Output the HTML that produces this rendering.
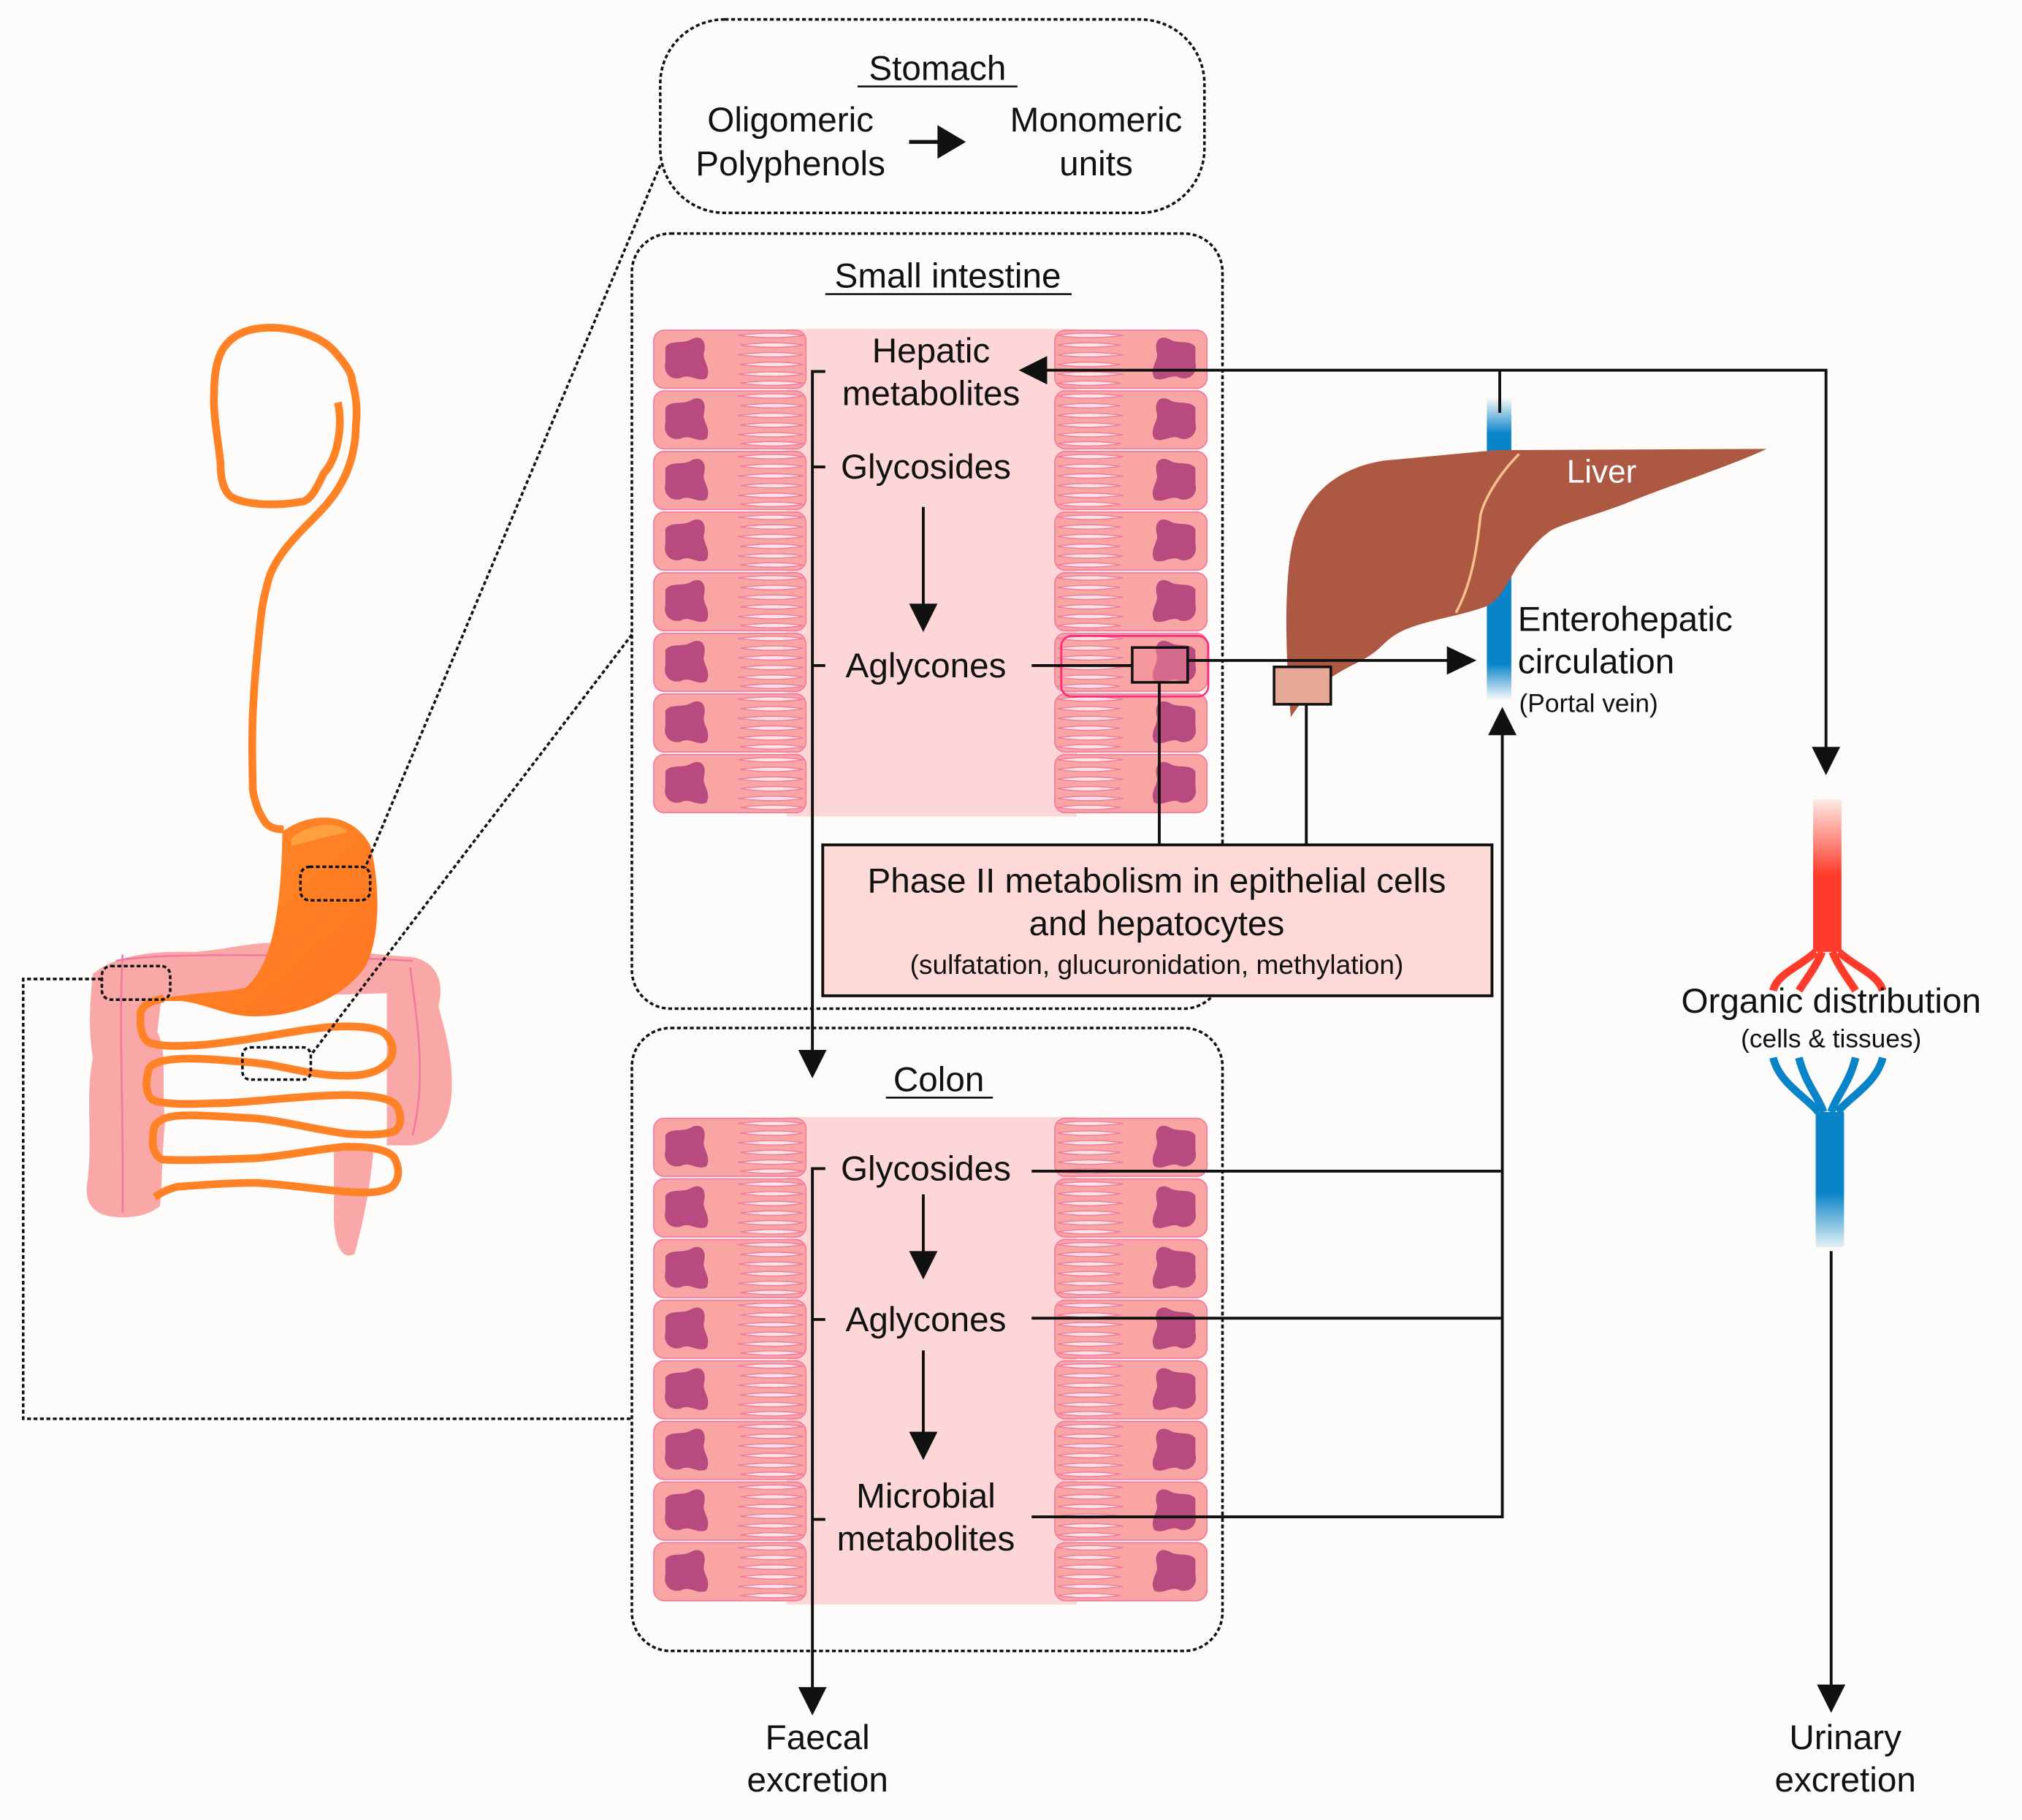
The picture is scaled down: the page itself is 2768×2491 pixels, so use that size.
<!DOCTYPE html>
<html><head><meta charset="utf-8">
<style>
html,body{margin:0;padding:0;background:#fdfcfa;}
svg{display:block;}
text{font-family:"Liberation Sans",sans-serif;fill:#111;}
</style></head>
<body>
<svg width="2768" height="2491" viewBox="0 0 1568 1411" xmlns="http://www.w3.org/2000/svg">
<defs>
  <symbol id="lrow" viewBox="0 0 120 47" width="120" height="47">
    <rect x="1" y="1" width="118" height="45" rx="8" fill="#f9a5a3" stroke="#f27ca0" stroke-width="1"/>
    <path d="M10 14 C14 8 24 12 30 8 C38 4 42 10 40 18 C38 24 46 30 42 38 C36 42 28 34 22 38 C14 40 8 34 10 26 Z" fill="#b94a80"/>
    <g fill="#fde4e4" stroke="#f07aa0" stroke-width="0.8">
      <path d="M66 5 Q95 1.5 117 5 Q95 8.5 66 5Z"/>
      <path d="M68 12.5 Q95 9 117 12.5 Q95 16 68 12.5Z"/>
      <path d="M66 20 Q95 16.5 117 20 Q95 23.5 66 20Z"/>
      <path d="M68 27.5 Q95 24 117 27.5 Q95 31 68 27.5Z"/>
      <path d="M66 35 Q95 31.5 117 35 Q95 38.5 66 35Z"/>
      <path d="M68 42 Q95 38.5 117 42 Q95 45.5 68 42Z"/>
    </g>
  </symbol>
  <linearGradient id="bv" x1="0" y1="0" x2="0" y2="1">
    <stop offset="0" stop-color="#0a84c8" stop-opacity="0"/>
    <stop offset="0.12" stop-color="#0a84c8"/>
    <stop offset="0.88" stop-color="#0a84c8"/>
    <stop offset="1" stop-color="#0a84c8" stop-opacity="0"/>
  </linearGradient>
  <linearGradient id="rv" x1="0" y1="0" x2="0" y2="1">
    <stop offset="0" stop-color="#ff3b2b" stop-opacity="0.1"/>
    <stop offset="0.5" stop-color="#ff3b2b"/>
    <stop offset="1" stop-color="#ff3b2b"/>
  </linearGradient>
  <linearGradient id="bv2" x1="0" y1="0" x2="0" y2="1">
    <stop offset="0" stop-color="#0a84c8"/>
    <stop offset="0.6" stop-color="#0a84c8"/>
    <stop offset="1" stop-color="#0a84c8" stop-opacity="0.1"/>
  </linearGradient>
  <linearGradient id="st" x1="0" y1="0" x2="1" y2="1">
    <stop offset="0" stop-color="#ff8a2a"/>
    <stop offset="1" stop-color="#ff7520"/>
  </linearGradient>
</defs>

<rect width="1568" height="1411" fill="#fdfcfa"/>

<g>
  <g fill="#f9a7a7">
    <path d="M72 755 C90 740 120 737 150 738 C180 736 200 728 230 732 C260 736 290 740 320 742 C338 746 345 760 340 780 C345 800 352 820 350 850 C348 870 340 885 320 888 L290 888 C288 910 285 935 275 972 C265 978 258 965 259 935 L259 888 L300 888 L300 770 L125 775 L122 800 C130 815 125 840 128 870 C125 900 126 920 124 935 C115 943 100 945 85 943 C70 940 65 930 68 915 C72 880 66 850 72 820 C68 795 70 775 72 755 Z"/>
  </g>
  <path d="M95 740 C92 800 96 860 95 940" stroke="#f27aa0" stroke-width="1.5" fill="none"/>
  <path d="M90 745 C110 740 200 738 320 745" stroke="#f27aa0" stroke-width="1.5" fill="none"/>
  <path d="M318 750 C325 800 330 840 320 880" stroke="#f27aa0" stroke-width="1.5" fill="none"/>
  <path d="M262 312 C266 330 262 355 251 367 C245 380 240 389 233 389 C222 391 214 391 210 391 C195 391 182 388 178 384 C172 378 171 368 171 359 C169 340 165 320 166 305 C166 290 168 280 172 272 C180 258 195 254 210 254 C230 254 250 262 259 272 C268 282 273 290 273 295 C277 310 277 320 276 329 C276 345 272 360 267 370 C260 385 250 395 239 406 C225 420 212 435 208 450 C204 465 203 472 202 481 C199 510 197 530 196 555 C195 580 196 600 196 612 C198 625 202 632 206 638 C210 642 214 643 220 643" stroke="#ff8226" stroke-width="6" fill="none"/>
  <path d="M219 645 C235 632 270 625 287 655 C296 690 294 730 283 750 C265 775 230 788 198 788 C175 788 160 778 140 776 L115 776 C140 770 170 770 190 766 C210 750 218 710 219 645 Z" fill="url(#st)"/>
  <path d="M226 650 C240 638 262 636 270 645 C255 648 240 652 226 656Z" fill="#ffa040"/>
  <path d="M127 774 C112 777 108 783 109 788 C108 800 112 806 115 808 C125 812 140 811 158 810 C200 806 230 798 259 796 C280 795 296 797 300 803 C306 810 305 818 302 822 C295 832 280 834 269 834 C240 834 220 826 198 824 C175 822 155 820 138 821 C122 822 115 826 115 831 C112 842 114 850 119 853 C130 857 150 856 178 855 C210 853 240 849 269 849 C290 849 305 852 308 858 C312 866 311 873 306 877 C298 880 285 880 269 879 C245 876 220 869 198 867 C175 866 155 864 138 865 C125 866 119 871 119 877 C117 890 120 896 126 899 C140 900 170 899 198 898 C225 896 250 890 269 889 C290 889 302 892 306 898 C310 906 310 914 304 920 C296 925 285 925 269 924 C245 922 220 918 198 917 C175 917 155 919 138 920 C130 922 126 924 120 928" stroke="#ff8226" stroke-width="6" fill="none"/>
  <rect x="233" y="672" width="54" height="26" rx="7" fill="none" stroke="#111" stroke-width="2" stroke-dasharray="3,2"/>
  <rect x="188" y="812" width="53" height="25" rx="6" fill="none" stroke="#111" stroke-width="2" stroke-dasharray="3,2"/>
  <rect x="79" y="749" width="53" height="26" rx="7" fill="none" stroke="#111" stroke-width="2" stroke-dasharray="3,2"/>
</g>

<g stroke="#111" stroke-width="2" stroke-dasharray="3,2" fill="none">
  <path d="M512 128 L283 673"/>
  <path d="M490 492 L241 818"/>
  <path d="M79 759 L18 759 L18 1100 L490 1100"/>
</g>

<g fill="none" stroke="#111" stroke-width="2" stroke-dasharray="3,2">
  <rect x="512" y="15" width="422" height="150" rx="50"/>
  <rect x="490" y="181" width="458" height="601" rx="30"/>
  <rect x="490" y="797" width="458" height="483" rx="30"/>
</g>

<text x="727" y="62" font-size="27" text-anchor="middle">Stomach</text>
<line x1="665" y1="67" x2="789" y2="67" stroke="#111" stroke-width="1.5"/>
<text x="613" y="102" font-size="27" text-anchor="middle">Oligomeric</text>
<text x="613" y="136" font-size="27" text-anchor="middle">Polyphenols</text>
<text x="850" y="102" font-size="27" text-anchor="middle">Monomeric</text>
<text x="850" y="136" font-size="27" text-anchor="middle">units</text>
<line x1="705" y1="110" x2="730" y2="110" stroke="#111" stroke-width="3"/>
<polygon points="727,97 749,110 727,123" fill="#111"/>

<text x="735" y="223" font-size="27" text-anchor="middle">Small intestine</text>
<line x1="640" y1="228" x2="831" y2="228" stroke="#111" stroke-width="1.5"/>
<text x="728" y="846" font-size="27" text-anchor="middle">Colon</text>
<line x1="687" y1="851" x2="770" y2="851" stroke="#111" stroke-width="1.5"/>

<g>
  <rect x="610" y="255" width="225" height="378" fill="#fdd7d7"/>
  <use href="#lrow" x="506" y="255"/><use href="#lrow" x="506" y="302"/><use href="#lrow" x="506" y="349"/><use href="#lrow" x="506" y="396"/>
  <use href="#lrow" x="506" y="443"/><use href="#lrow" x="506" y="490"/><use href="#lrow" x="506" y="537"/><use href="#lrow" x="506" y="584"/>
  <g transform="translate(1443,0) scale(-1,1)">
    <use href="#lrow" x="506" y="255"/><use href="#lrow" x="506" y="302"/><use href="#lrow" x="506" y="349"/><use href="#lrow" x="506" y="396"/>
    <use href="#lrow" x="506" y="443"/><use href="#lrow" x="506" y="490"/><use href="#lrow" x="506" y="537"/><use href="#lrow" x="506" y="584"/>
  </g>
  <rect x="823" y="493" width="114" height="47" rx="8" fill="none" stroke="#ff2a7a" stroke-width="1.5"/>
</g>
<g transform="translate(0,611)">
  <rect x="610" y="255" width="225" height="378" fill="#fdd7d7"/>
  <use href="#lrow" x="506" y="255"/><use href="#lrow" x="506" y="302"/><use href="#lrow" x="506" y="349"/><use href="#lrow" x="506" y="396"/>
  <use href="#lrow" x="506" y="443"/><use href="#lrow" x="506" y="490"/><use href="#lrow" x="506" y="537"/><use href="#lrow" x="506" y="584"/>
  <g transform="translate(1443,0) scale(-1,1)">
    <use href="#lrow" x="506" y="255"/><use href="#lrow" x="506" y="302"/><use href="#lrow" x="506" y="349"/><use href="#lrow" x="506" y="396"/>
    <use href="#lrow" x="506" y="443"/><use href="#lrow" x="506" y="490"/><use href="#lrow" x="506" y="537"/><use href="#lrow" x="506" y="584"/>
  </g>
</g>

<text x="722" y="281" font-size="27" text-anchor="middle">Hepatic</text>
<text x="722" y="314" font-size="27" text-anchor="middle">metabolites</text>
<text x="718" y="371" font-size="27" text-anchor="middle">Glycosides</text>
<text x="718" y="525" font-size="27" text-anchor="middle">Aglycones</text>

<text x="718" y="915" font-size="27" text-anchor="middle">Glycosides</text>
<text x="718" y="1032" font-size="27" text-anchor="middle">Aglycones</text>
<text x="718" y="1169" font-size="27" text-anchor="middle">Microbial</text>
<text x="718" y="1202" font-size="27" text-anchor="middle">metabolites</text>

<rect x="1153" y="308" width="19" height="235" fill="url(#bv)"/>
<path d="M1001 556 C996 500 996 440 1004 415 C1015 380 1040 362 1074 357 L1160 349 L1370 348 C1340 362 1290 378 1259 391 C1235 400 1215 405 1203 411 C1190 420 1182 432 1176 440 C1165 460 1160 468 1150 471 C1130 478 1110 480 1090 488 C1070 497 1075 503 1050 515 C1030 525 1012 538 1001 556 Z" fill="#ad5843"/>
<path d="M1178 352 C1160 370 1150 390 1148 400 C1145 430 1140 455 1129 475" stroke="#f7c08c" stroke-width="2" fill="none"/>
<text x="1242" y="374" font-size="25" text-anchor="middle" style="fill:#fff">Liver</text>
<text x="1177" y="489" font-size="27">Enterohepatic</text>
<text x="1177" y="522" font-size="27">circulation</text>
<text x="1178" y="552" font-size="20">(Portal vein)</text>

<g fill="none" stroke-width="6">
  <rect x="1406" y="620" width="22" height="118" fill="url(#rv)" stroke="none"/>
  <path d="M1408 738 C1395 750 1378 755 1375 768" stroke="#ff3b2b"/>
  <path d="M1413 738 C1408 750 1400 760 1395 768" stroke="#ff3b2b"/>
  <path d="M1421 738 C1426 750 1434 760 1439 768" stroke="#ff3b2b"/>
  <path d="M1426 738 C1439 750 1456 755 1460 768" stroke="#ff3b2b"/>
  <path d="M1375 820 C1380 840 1400 850 1410 862" stroke="#0a84c8"/>
  <path d="M1395 820 C1400 840 1410 850 1414 862" stroke="#0a84c8"/>
  <path d="M1439 820 C1434 840 1424 850 1420 862" stroke="#0a84c8"/>
  <path d="M1460 820 C1455 840 1435 850 1425 862" stroke="#0a84c8"/>
  <rect x="1408" y="862" width="22" height="105" fill="url(#bv2)" stroke="none"/>
</g>
<text x="1420" y="785" font-size="27" text-anchor="middle">Organic distribution</text>
<text x="1420" y="812" font-size="20" text-anchor="middle">(cells &amp; tissues)</text>

<g stroke="#111" stroke-width="2.2" fill="none">
  <path d="M640 288 L630 288 L630 822"/>
  <path d="M630 362 L640 362"/>
  <path d="M630 516 L640 516"/>
  <path d="M640 906 L630 906 L630 1312"/>
  <path d="M630 1023 L640 1023"/>
  <path d="M630 1178 L640 1178"/>
  <path d="M716 393 L716 473"/>
  <path d="M716 926 L716 975"/>
  <path d="M716 1047 L716 1115"/>
  <path d="M810 287 L1416 287 L1416 582"/>
  <path d="M1163 287 L1163 320"/>
  <path d="M800 516 L878 516"/>
  <path d="M921 512 L1125 512"/>
  <path d="M899 529 L899 655"/>
  <path d="M1013 546 L1013 655"/>
  <path d="M800 908 L1165 908"/>
  <path d="M800 1022 L1165 1022"/>
  <path d="M800 1176 L1165 1176 L1165 568"/>
  <path d="M1420 970 L1420 1310"/>
</g>
<g fill="#111">
  <polygon points="790,287 812,276 812,298"/>
  <polygon points="619,814 641,814 630,836"/>
  <polygon points="619,1308 641,1308 630,1330"/>
  <polygon points="705,468 727,468 716,490"/>
  <polygon points="705,970 727,970 716,992"/>
  <polygon points="705,1110 727,1110 716,1132"/>
  <polygon points="1122,501 1145,512 1122,523"/>
  <polygon points="1405,579 1427,579 1416,601"/>
  <polygon points="1154,570 1176,570 1165,548"/>
  <polygon points="1409,1306 1431,1306 1420,1328"/>
</g>
<rect x="878" y="502" width="43" height="27" fill="#f28b9a" fill-opacity="0.5" stroke="#111" stroke-width="2"/>
<rect x="988" y="517" width="44" height="29" fill="#e5a896" stroke="#111" stroke-width="2"/>

<rect x="638" y="655" width="519" height="117" fill="#fddad7" stroke="#111" stroke-width="2.2"/>
<text x="897" y="692" font-size="27" text-anchor="middle">Phase II metabolism in epithelial cells</text>
<text x="897" y="725" font-size="27" text-anchor="middle">and hepatocytes</text>
<text x="897" y="755" font-size="21" text-anchor="middle">(sulfatation,  glucuronidation, methylation)</text>

<text x="634" y="1356" font-size="27" text-anchor="middle">Faecal</text>
<text x="634" y="1389" font-size="27" text-anchor="middle">excretion</text>
<text x="1431" y="1356" font-size="27" text-anchor="middle">Urinary</text>
<text x="1431" y="1389" font-size="27" text-anchor="middle">excretion</text>
</svg>
</body></html>
